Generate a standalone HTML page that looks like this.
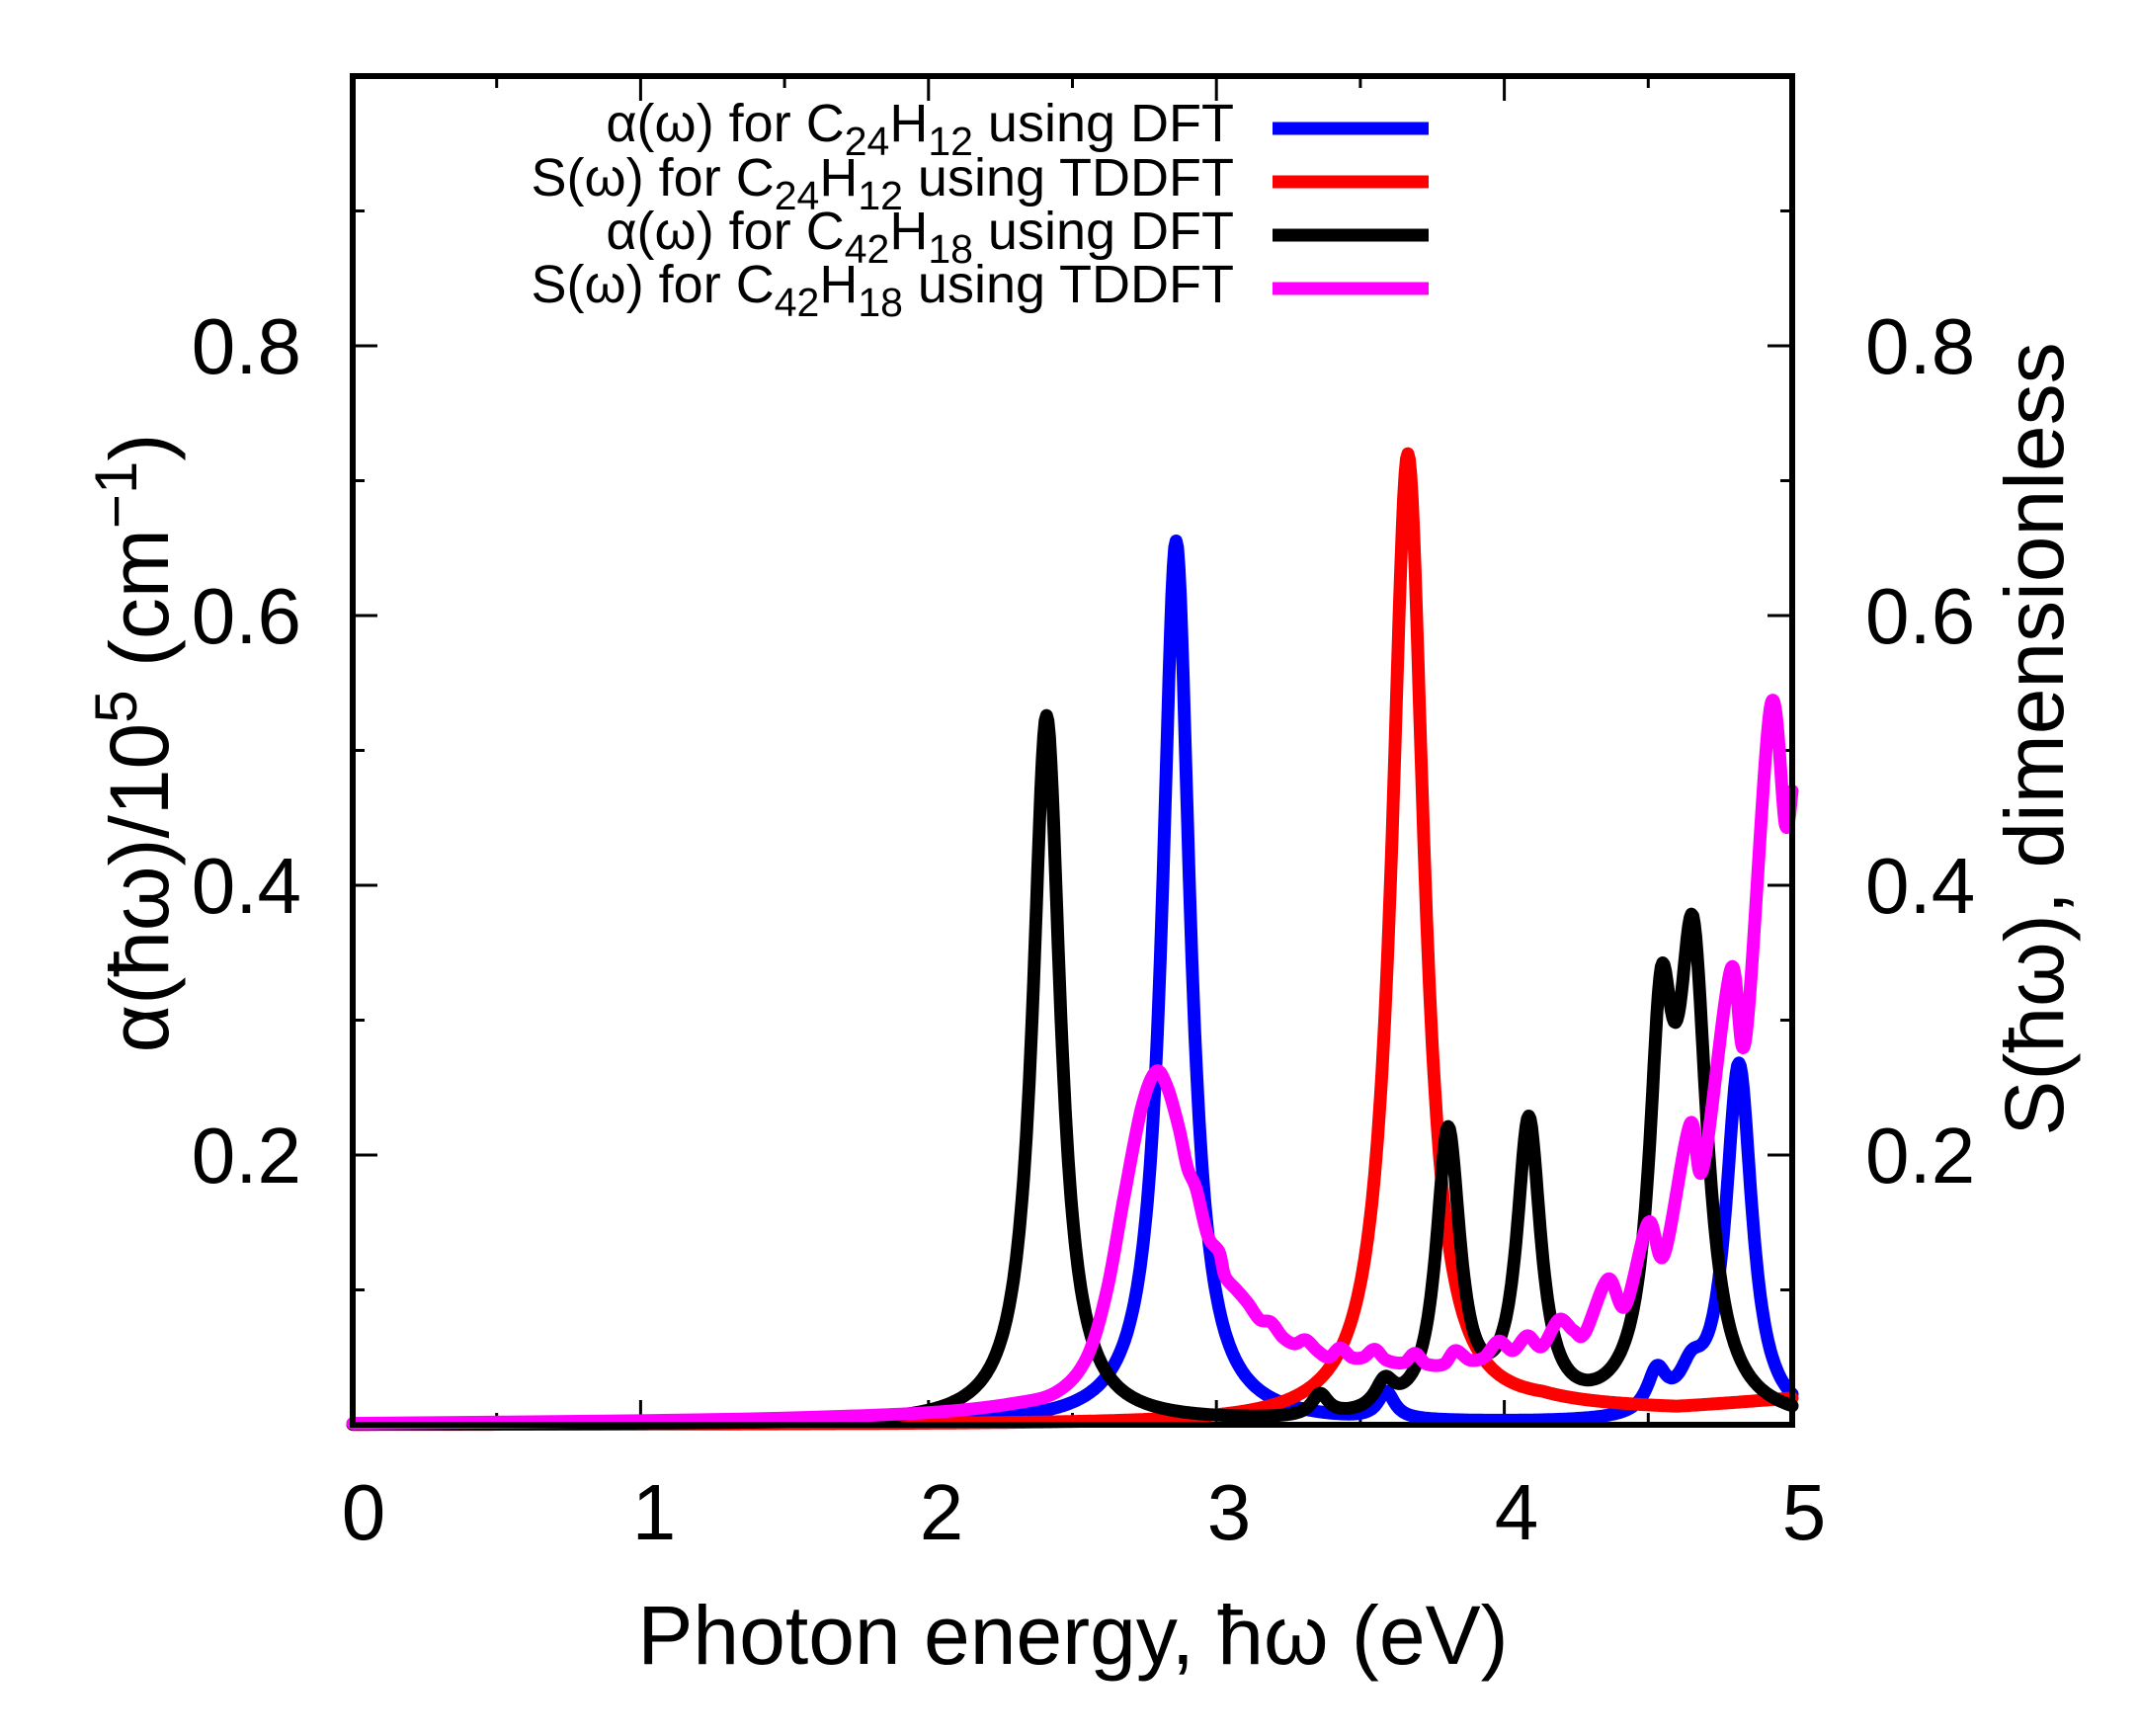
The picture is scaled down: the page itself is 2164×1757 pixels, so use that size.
<!DOCTYPE html>
<html><head><meta charset="utf-8">
<style>
html,body{margin:0;padding:0;background:#fff;}
svg{display:block;}
text{font-family:"Liberation Sans",sans-serif;fill:#000;}
</style></head>
<body>
<svg id="s" width="2164" height="1757" viewBox="0 0 2164 1757" xmlns="http://www.w3.org/2000/svg">
<rect x="0" y="0" width="2164" height="1757" fill="#fff"/>
<g id="ticks" stroke="#000" stroke-width="3"></g>
<g id="curves" fill="none" stroke-width="13" stroke-linejoin="round" stroke-linecap="round"></g>
<rect x="357" y="77" width="1457" height="1365" fill="none" stroke="#000" stroke-width="6"/>
<g font-size="80" text-anchor="end">
<text x="305" y="378">0.8</text>
<text x="305" y="651">0.6</text>
<text x="305" y="924">0.4</text>
<text x="305" y="1197">0.2</text>
</g>
<g font-size="80" text-anchor="start">
<text x="1888" y="378">0.8</text>
<text x="1888" y="651">0.6</text>
<text x="1888" y="924">0.4</text>
<text x="1888" y="1197">0.2</text>
</g>
<g font-size="80" text-anchor="middle">
<text x="368" y="1558">0</text>
<text x="662" y="1558">1</text>
<text x="953" y="1558">2</text>
<text x="1244" y="1558">3</text>
<text x="1535" y="1558">4</text>
<text x="1826" y="1558">5</text>
</g>
<text x="1086" y="1684" font-size="84" text-anchor="middle">Photon energy, ħω (eV)</text>
<text transform="translate(170,752) rotate(-90)" font-size="84" text-anchor="middle">α(ħω)/10<tspan dy="-32" font-size="60">5</tspan><tspan dy="32"> (cm</tspan><tspan dy="-32" font-size="60">−1</tspan><tspan dy="32">)</tspan></text>
<text transform="translate(2088,748) rotate(-90)" font-size="84" text-anchor="middle">S(ħω), dimensionless</text>
<g font-size="54" text-anchor="end">
<text x="1249" y="143">α(ω) for C<tspan dy="14" font-size="41">24</tspan><tspan dy="-14">H</tspan><tspan dy="14" font-size="41">12</tspan><tspan dy="-14"> using DFT</tspan></text>
<text x="1249" y="198">S(ω) for C<tspan dy="14" font-size="41">24</tspan><tspan dy="-14">H</tspan><tspan dy="14" font-size="41">12</tspan><tspan dy="-14"> using TDDFT</tspan></text>
<text x="1249" y="252">α(ω) for C<tspan dy="14" font-size="41">42</tspan><tspan dy="-14">H</tspan><tspan dy="14" font-size="41">18</tspan><tspan dy="-14"> using DFT</tspan></text>
<text x="1249" y="306">S(ω) for C<tspan dy="14" font-size="41">42</tspan><tspan dy="-14">H</tspan><tspan dy="14" font-size="41">18</tspan><tspan dy="-14"> using TDDFT</tspan></text>
</g>
<g stroke-width="13">
<line x1="1288" y1="130" x2="1446" y2="130" stroke="#0000ff"/>
<line x1="1288" y1="184" x2="1446" y2="184" stroke="#ff0000"/>
<line x1="1288" y1="238" x2="1446" y2="238" stroke="#000"/>
<line x1="1288" y1="292" x2="1446" y2="292" stroke="#ff00ff"/>
</g>
</svg>
<script>
(function(){
var NS="http://www.w3.org/2000/svg";
function X(e){return 357+e*291.4;}
function Y(v){return 1442-v*1365;}
var tg=document.getElementById('ticks');
function ln(x1,y1,x2,y2){var l=document.createElementNS(NS,'line');l.setAttribute('x1',x1);l.setAttribute('y1',y1);l.setAttribute('x2',x2);l.setAttribute('y2',y2);tg.appendChild(l);}
for(var i=1;i<10;i++){var e=i*0.5;var L=(i%2==0)?25:12;ln(X(e),1442,X(e),1442-L);ln(X(e),77,X(e),77+L);}
for(var i=1;i<10;i++){var v=i*0.1;var L=(i%2==0)?25:12;ln(357,Y(v),357+L,Y(v));ln(1814,Y(v),1814-L,Y(v));}
function lor(e,pk){var s=0;for(var k=0;k<pk.length;k++){var p=pk[k];var d=(e-p[0])/p[2];s+=p[1]/(1+d*d);}return s;}
var cg=document.getElementById('curves');
function path(fn,col){var d='';for(var e=0;e<=5.0001;e+=0.005){var v=fn(e);d+=(d?'L':'M')+X(e).toFixed(1)+','+Y(v).toFixed(1);}var p=document.createElementNS(NS,'path');p.setAttribute('d',d);p.setAttribute('stroke',col);cg.appendChild(p);}
var blue=[[2.86,0.655,0.058],[3.59,0.02,0.035],[4.53,0.03,0.04],[4.65,0.025,0.05],[4.815,0.265,0.055]];
path(function(e){return lor(e,blue);},'#0000ff');
var red=[[3.665,0.72,0.068]];
path(function(e){return lor(e,red)+ (e>3.8?Math.min(0.01,(e-3.8)*0.03):0)+(e>4.6?(e-4.6)*0.02:0);},'#ff0000');
var blk=[[2.41,0.525,0.058],[3.36,0.016,0.035],[3.585,0.02,0.04],[3.805,0.21,0.05],[4.085,0.215,0.05],[4.545,0.26,0.05],[4.655,0.33,0.06]];
path(function(e){return lor(e,blk);},'#000000');
var mp=[[0,0.001],[1.0,0.003],[1.5,0.005],[2.0,0.009],[2.3,0.016],[2.45,0.025],[2.55,0.05],[2.62,0.1],[2.68,0.17],[2.74,0.235],[2.79,0.262],[2.83,0.25],[2.87,0.22],[2.9,0.19],[2.93,0.175],[2.97,0.14],[3.01,0.128],[3.03,0.11],[3.07,0.1],[3.11,0.09],[3.15,0.078],[3.19,0.076],[3.23,0.065],[3.27,0.06],[3.31,0.063],[3.35,0.055],[3.39,0.05],[3.43,0.057],[3.47,0.05],[3.51,0.05],[3.55,0.056],[3.59,0.048],[3.65,0.046],[3.69,0.053],[3.73,0.045],[3.79,0.045],[3.83,0.055],[3.88,0.048],[3.93,0.05],[3.98,0.062],[4.03,0.055],[4.08,0.066],[4.13,0.058],[4.19,0.078],[4.24,0.07],[4.28,0.068],[4.36,0.108],[4.42,0.088],[4.5,0.15],[4.555,0.126],[4.645,0.223],[4.69,0.19],[4.787,0.338],[4.838,0.286],[4.925,0.533],[4.976,0.445],[5.0,0.47]];
var d='';
for(var i=0;i<mp.length;i++){var x=X(mp[i][0]),y=Y(mp[i][1]);if(i==0){d='M'+x+','+y;continue;}
var p0=mp[Math.max(0,i-2)],p1=mp[i-1],p2=mp[i],p3=mp[Math.min(mp.length-1,i+1)];
var c1x=X(p1[0])+(X(p2[0])-X(p0[0]))/6,c1y=Y(p1[1])+(Y(p2[1])-Y(p0[1]))/6;
var c2x=X(p2[0])-(X(p3[0])-X(p1[0]))/6,c2y=Y(p2[1])-(Y(p3[1])-Y(p1[1]))/6;
d+='C'+c1x.toFixed(1)+','+c1y.toFixed(1)+' '+c2x.toFixed(1)+','+c2y.toFixed(1)+' '+x.toFixed(1)+','+y.toFixed(1);}
var p=document.createElementNS(NS,'path');p.setAttribute('d',d);p.setAttribute('stroke','#ff00ff');cg.appendChild(p);
})();
</script>
</body></html>
